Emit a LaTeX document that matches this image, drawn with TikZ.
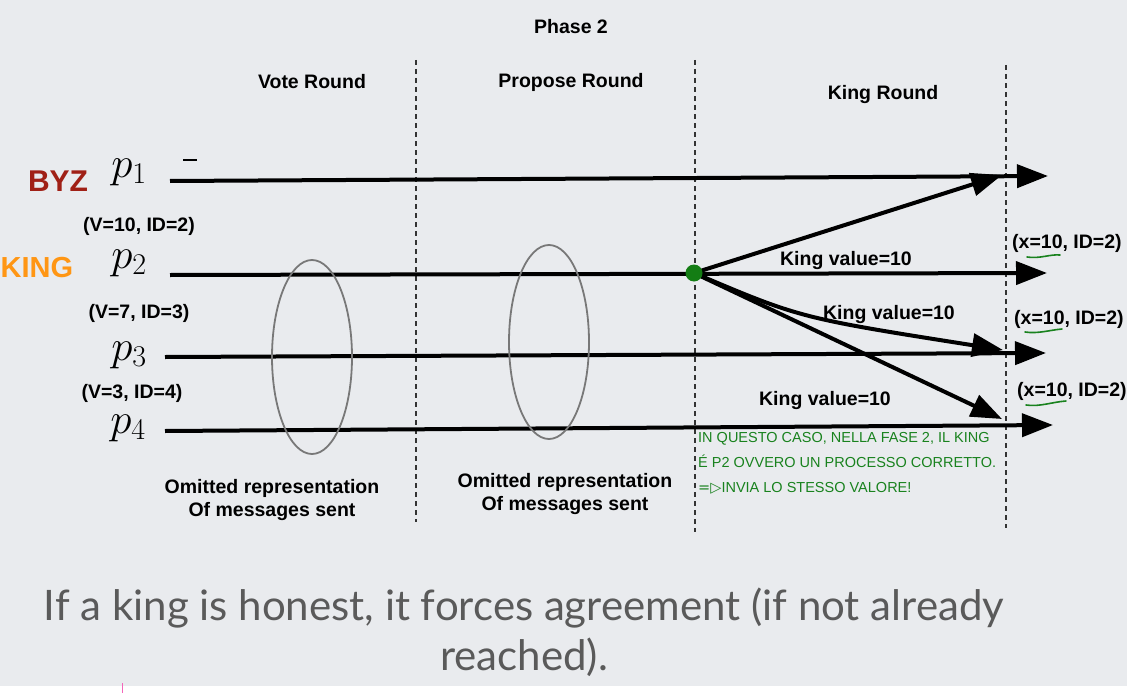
\RequirePackage{fix-cm}
\documentclass[tikz,border=0pt]{standalone}
\usepackage{fontspec}
\setmainfont{Liberation Sans}
\newfontfamily\latofont{Lato}
\newfontfamily\djv{DejaVu Sans}
\usetikzlibrary{arrows.meta}
\definecolor{bgc}{RGB}{233,235,238}
\definecolor{byzred}{RGB}{160,32,22}
\definecolor{kingorange}{RGB}{255,150,20}
\definecolor{kgreen}{RGB}{20,125,20}
\definecolor{hgreen}{RGB}{25,130,30}
\definecolor{elgray}{RGB}{120,120,120}
\definecolor{captgray}{RGB}{90,90,90}
\tikzset{
  lbl/.style={font=\bfseries\fontsize{19.5}{21}\selectfont, inner sep=0pt},
  vlbl/.style={font=\bfseries\fontsize{19.5}{21}\selectfont, inner sep=0pt},
  proc/.style={font=\fontsize{43}{43}\selectfont, inner sep=0pt, text height=15pt, text depth=6pt},
  arr/.style={line width=4pt, -{Triangle[length=31pt,width=23pt]}},
  dashline/.style={line width=1.2pt, dash pattern=on 5pt off 4pt, black!80},
  ell/.style={elgray, line width=1.8pt},
  uline/.style={hgreen, line width=1.6pt, line cap=round},
  hand/.style={hgreen, font=\fontsize{14.5}{25}\selectfont, align=left, inner sep=0pt, anchor=north west},
}
\begin{document}
\begin{tikzpicture}[x=1pt,y=-1pt]
\fill[bgc] (0,0) rectangle (1127,693);
\useasboundingbox (0,0) rectangle (1127,693);
\fill[white] (0,686) rectangle (1127,693);
\draw[magenta!60, line width=1pt] (122,683) -- (122,693);

% headings
\node[lbl] (phase) at (571,27) {Phase 2};
\node[lbl] (vote) at (312,82) {Vote Round};
\node[lbl] (prop) at (571,82) {Propose Round};
\node[lbl] (kingr) at (883,95) {King Round};

% dashed separators
\coordinate (d1t) at (416,60);  \coordinate (d1b) at (416,522);
\coordinate (d2t) at (695,60);  \coordinate (d2b) at (695,532);
\coordinate (d3t) at (1006,65); \coordinate (d3b) at (1006,528);
\draw[dashline] (d1t) -- (d1b);
\draw[dashline] (d2t) -- (d2b);
\draw[dashline] (d3t) -- (d3b);

% process labels
\node[font=\bfseries\fontsize{30}{32}\selectfont, text=byzred, inner sep=0pt] (byz) at (58,181) {BYZ};
\node[proc] (p1) at (129,173) {$p_1$};
\node[vlbl] (v2) at (139,226) {(V=10, ID=2)};
\node[font=\bfseries\fontsize{29}{31}\selectfont, text=kingorange, inner sep=0pt] (king) at (37,268) {KING};
\node[proc] (p2) at (129,264) {$p_2$};
\node[vlbl] (v3) at (139,313) {(V=7, ID=3)};
\node[proc] (p3) at (129,356) {$p_3$};
\node[vlbl] (v4) at (132,393) {(V=3, ID=4)};
\node[proc] (p4) at (128,429) {$p_4$};
\coordinate (m1) at (183,160); \coordinate (m2) at (197,160);
\draw[line width=1.4pt] (m1) -- (m2);

% process lines
\coordinate (s1) at (170,181); \coordinate (e1) at (1048,176);
\coordinate (s2) at (170,275); \coordinate (e2) at (1047,273);
\coordinate (s3) at (165,357); \coordinate (e3) at (1046,353);
\coordinate (s4) at (165,431); \coordinate (e4) at (1053,425);
\draw[arr] (s1) -- (e1);
\draw[arr] (s2) -- (e2);
\draw[arr] (s3) -- (e3);
\draw[arr] (s4) -- (e4);

% king messages
\coordinate (k) at (694,273);
\coordinate (t1) at (1002,175);
\coordinate (t3) at (1003,350);
\coordinate (t4) at (1002,419);
\draw[arr] (k) -- (t1);
\draw[arr] (k) .. controls (800,318) .. (t3);
\draw[arr] (k) -- (t4);
\node[circle, fill=kgreen, minimum size=17pt, inner sep=0pt] (dot) at (k) {};

\node[vlbl] (kv1) at (846,260) {King value=10};
\node[vlbl] (kv2) at (889,314) {King value=10};
\node[vlbl] (kv3) at (825,400) {King value=10};

% results
\node[vlbl, anchor=west] (r1) at (1012,243) {(x=10, ID=2)};
\node[vlbl, anchor=west] (r2) at (1014,319) {(x=10, ID=2)};
\node[vlbl, anchor=west] (r3) at (1017,391) {(x=10, ID=2)};
\draw[uline] (1027,257) .. controls (1040,259) and (1050,254) .. (1060,255);
\draw[uline] (1025,332) .. controls (1038,334) and (1050,330) .. (1062,329);
\draw[uline] (1026,405) .. controls (1040,407) and (1052,402) .. (1066,401);

% omitted ellipses
\draw[ell] (312,357) ellipse [x radius=40pt, y radius=97pt];
\draw[ell] (549,342) ellipse [x radius=40pt, y radius=97pt];
\node[vlbl, align=center] (om1) at (272,500) {Omitted representation\\[2pt]Of messages sent};
\node[vlbl, align=center] (om2) at (565,494) {Omitted representation\\[2pt]Of messages sent};

% handwritten note
\node[hand] (note) at (698,432) {IN QUESTO CASO, NELLA FASE 2, IL KING\\É P2 OVVERO UN PROCESSO CORRETTO.\\{\djv =▷}INVIA LO STESSO VALORE!};

% caption
\node[font=\latofont\fontsize{42}{42}\selectfont, text=captgray, inner sep=0pt] (cap1) at (524,608) {If a king is honest, it forces agreement (if not already};
\node[font=\latofont\fontsize{42}{42}\selectfont, text=captgray, inner sep=0pt] (cap2) at (524,657) {reached).};
\end{tikzpicture}
\end{document}
